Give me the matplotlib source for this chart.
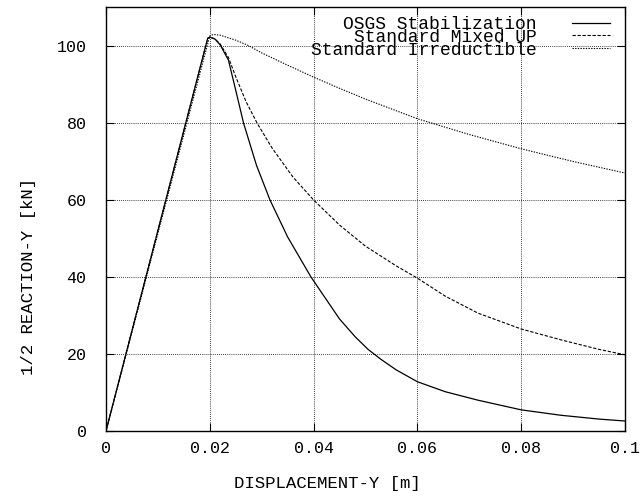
import matplotlib
matplotlib.use('Agg')
import matplotlib.pyplot as plt

plt.rcParams['font.family'] = ['Liberation Mono', 'DejaVu Sans Mono']

# OSGS Stabilization (solid)
osgs_x = [0, 0.0196, 0.0200, 0.0210, 0.0220, 0.0236, 0.0250, 0.0265, 0.0290, 0.0316,
          0.0350, 0.0395, 0.0450, 0.0480, 0.0505, 0.0530, 0.0559, 0.0600, 0.0654,
          0.0717, 0.0800, 0.0876, 0.0950, 0.1000]
osgs_y = [0, 102.0, 102.3, 101.8, 100.3, 96.3, 88.5, 80.0, 69.0, 60.0,
          50.4, 40.0, 29.1, 24.5, 21.2, 18.6, 15.9, 12.8, 10.2,
          8.0, 5.5, 4.1, 3.1, 2.6]

# Standard Mixed UP (dashed)
mixed_x = [0, 0.0196, 0.0200, 0.0210, 0.0220, 0.0236, 0.0250, 0.0270, 0.0291, 0.0320,
           0.0360, 0.0400, 0.0450, 0.0500, 0.0559, 0.0600, 0.0654, 0.0717, 0.0800,
           0.0876, 0.0950, 0.1000]
mixed_y = [0, 102.0, 102.3, 101.8, 100.5, 97.0, 92.0, 85.5, 80.0, 73.5,
           66.0, 60.0, 53.5, 48.0, 42.9, 39.7, 35.0, 30.6, 26.5,
           23.7, 21.2, 19.8]

# Standard Irreductible (dotted)
irred_x = [0, 0.0200, 0.0207, 0.0220, 0.0250, 0.0273, 0.0300, 0.0350, 0.0400, 0.0450,
           0.0500, 0.0600, 0.0700, 0.0800, 0.0900, 0.1000]
irred_y = [0, 102.6, 103.0, 102.8, 101.5, 100.2, 98.2, 95.0, 91.9, 89.0,
           86.2, 81.1, 77.0, 73.3, 70.0, 67.0]

xticks = [0, 0.02, 0.04, 0.06, 0.08, 0.1]
xtick_labels = ['0', '0.02', '0.04', '0.06', '0.08', '0.1']
yticks = [0, 20, 40, 60, 80, 100]

fig = plt.figure(figsize=(6.4, 4.96), dpi=100)
ax = fig.add_axes([0.1656, 0.131, 0.8109, 0.854])

ax.plot(osgs_x, osgs_y, color='black', lw=0.9, ls='-', label='OSGS Stabilization')
ax.plot(mixed_x, mixed_y, color='black', lw=0.8, ls=(0, (3, 1.5)), label='Standard Mixed UP')
ax.plot(irred_x, irred_y, color='black', lw=0.8, ls=(0, (1.2, 1.2)), label='Standard Irreductible')

ax.set_xlim(0, 0.1)
ax.set_ylim(0, 110)
ax.set_xticks(xticks)
ax.set_xticklabels(xtick_labels)
ax.set_yticks(yticks)
ax.grid(True, color='black', ls=(0, (1, 1.5)), lw=0.6)
ax.tick_params(direction='in', top=True, right=True, length=6, width=0.8,
               labelsize=12)
ax.tick_params(axis='x', pad=7)
ax.tick_params(axis='y', pad=14)
for s in ax.spines.values():
    s.set_linewidth(1.0)

ax.set_xlabel('DISPLACEMENT-Y [m]', fontsize=12.5, va='center', ha='center')
ax.xaxis.set_label_coords(0.427, -0.123)
ax.set_ylabel('1/2 REACTION-Y [kN]', fontsize=12.5, va='center', ha='center')
ax.yaxis.set_label_coords(-0.149, 0.366)

ax.legend(loc='upper right', bbox_to_anchor=(0.9714, 0.98), frameon=False,
          markerfirst=False, fontsize=13, handlelength=2.1, handletextpad=1.95,
          labelspacing=-0.23, borderaxespad=0, borderpad=0)

plt.savefig('out.png', dpi=100)
